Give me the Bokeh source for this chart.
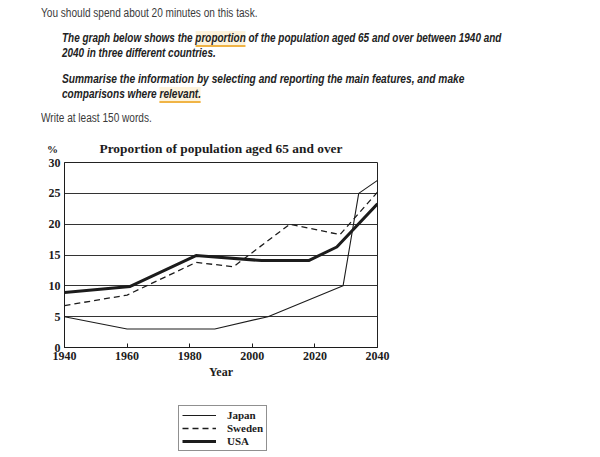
from bokeh.plotting import figure
from bokeh.models import Range1d, Legend, LegendItem, FixedTicker, Div
from bokeh.layouts import column
from bokeh.embed import file_html
from bokeh.resources import INLINE

# ---------------- data ----------------
japan_years = [1940, 1960, 1988, 2005, 2029, 2034, 2040]
japan_vals = [5.0, 3.0, 3.0, 5.0, 10.0, 25.0, 27.1]

sweden_years = [1940, 1960, 1982, 1994, 2012, 2028, 2040]
sweden_vals = [6.8, 8.5, 13.8, 13.1, 20.0, 18.3, 25.2]

usa_years = [1940, 1961, 1982, 2003, 2018, 2027, 2040]
usa_vals = [8.9, 9.9, 14.9, 14.1, 14.1, 16.3, 23.3]

series_names = ["Japan", "Sweden", "USA"]
x_ticks = [1940, 1960, 1980, 2000, 2020, 2040]
y_ticks = [0, 5, 10, 15, 20, 25, 30]

chart_title = "Proportion of population aged 65 and over"
header_intro = "You should spend about 20 minutes on this task."
task_1a = "The graph below shows the "
task_1b = "proportion"
task_1c = " of the population aged 65 and over between 1940 and"
task_2 = "2040 in three different countries."
task_3 = "Summarise the information by selecting and reporting the main features, and make"
task_4a = "comparisons where "
task_4b = "relevant."
header_outro = "Write at least 150 words."

# ---------------- layout (page pixels) ----------------
W = 600
DIV_H = 157
FL, FR, FT, FB = 64, 377, 162, 347     # plot frame edges
MAIN_BOTTOM = 390
LEG_H = 66

SANS = "'Liberation Sans', Arial, sans-serif"
SERIF_CSS = "'Liberation Serif', 'Times New Roman', serif"
SERIF = "Liberation Serif"
INK = "#1c1c1c"

hl = "border-bottom:2px solid #f0b446;background:#fdf3dc;"

def line_div(left, top, inner, style, sx=0.83):
    return (f'<div style="position:absolute;left:{left}px;top:{top}px;'
            f'white-space:nowrap;transform:scaleX({sx});transform-origin:0 0;'
            f'{style}">{inner}</div>')

plain = f"font-family:{SANS};font-size:12px;line-height:10px;color:#3a3a3a;"
bi = (f"font-family:{SANS};font-size:12px;line-height:10px;color:#222;"
      "font-weight:bold;font-style:italic;")

html = (f'<div style="position:relative;width:{W}px;height:{DIV_H}px;">'
        + line_div(41, 8.1, header_intro, plain, 0.84)
        + line_div(62, 32.5, f'{task_1a}<span style="{hl}">{task_1b}</span>{task_1c}', bi)
        + line_div(62, 47.5, task_2, bi)
        + line_div(62, 73.5, task_3, bi, 0.85)
        + line_div(62, 88.5, f'{task_4a}<span style="{hl}">{task_4b}</span>', bi, 0.84)
        + line_div(41, 112.5, header_outro, plain, 0.84)
        + f'<div style="position:absolute;left:0px;top:143.3px;width:442px;'
          f'text-align:center;white-space:nowrap;font-family:{SERIF_CSS};font-size:13.4px;'
          f'line-height:12px;font-weight:bold;color:{INK};">{chart_title}</div>'
        + f'<div style="position:absolute;left:42.5px;top:144.3px;width:20px;'
          f'text-align:center;font-family:{SERIF_CSS};font-size:11px;line-height:10px;'
          f'font-weight:bold;color:{INK};">%</div>'
        + '</div>')

header = Div(text=html, width=W, height=DIV_H, margin=0)

# ---------------- main chart ----------------
H = MAIN_BOTTOM - DIV_H
p = figure(width=W, height=H, output_backend="svg", toolbar_location=None,
           x_range=Range1d(1940, 2040), y_range=Range1d(0, 30),
           min_border_left=FL, min_border_right=W - FR,
           min_border_top=FT - DIV_H, min_border_bottom=MAIN_BOTTOM - FB, margin=0)
p.background_fill_color = "white"
p.border_fill_color = None
p.outline_line_color = "#222222"
p.outline_line_width = 1

xa = p.xaxis[0]
xa.ticker = FixedTicker(ticks=x_ticks)
xa.major_tick_in = 4
xa.major_tick_out = 0
xa.minor_tick_line_color = None
xa.axis_line_color = INK
xa.major_tick_line_color = INK
xa.major_label_text_font = SERIF
xa.major_label_text_font_style = "bold"
xa.major_label_text_font_size = "12px"
xa.major_label_text_color = INK
xa.major_label_standoff = 4
xa.axis_label = "Year"
xa.axis_label_text_font = SERIF
xa.axis_label_text_font_style = "bold"
xa.axis_label_text_font_size = "12px"
xa.axis_label_text_color = INK
xa.axis_label_standoff = 2

ya = p.yaxis[0]
ya.ticker = FixedTicker(ticks=y_ticks)
ya.major_tick_in = 0
ya.major_tick_out = 0
ya.minor_tick_line_color = None
ya.axis_line_color = INK
ya.major_label_text_font = SERIF
ya.major_label_text_font_style = "bold"
ya.major_label_text_font_size = "12px"
ya.major_label_text_color = INK
ya.major_label_standoff = 4

p.xgrid.grid_line_color = None
p.ygrid.ticker = FixedTicker(ticks=y_ticks)
p.ygrid.grid_line_color = "#333333"
p.ygrid.grid_line_width = 1

styles = [dict(line_width=1.1), dict(line_width=1.3, line_dash="6 4"), dict(line_width=3)]
series = [(japan_years, japan_vals), (sweden_years, sweden_vals), (usa_years, usa_vals)]
for (xs, ys), s in zip(series, styles):
    p.line(xs, ys, line_color=INK, **s)

# ---------------- legend (separate strip under the chart) ----------------
# The same series are drawn here too, but the strip's ranges keep them out of
# view: they only provide the legend's line samples.
lg = figure(width=W, height=LEG_H, output_backend="svg", toolbar_location=None,
            x_range=Range1d(0, 1), y_range=Range1d(0, 1), min_border=0,
            x_axis_type=None, y_axis_type=None, margin=0)
lg.outline_line_color = None
lg.grid.grid_line_color = None
lg.background_fill_color = None
lg.border_fill_color = None
key_renderers = [lg.line(xs, ys, line_color=INK, **s) for (xs, ys), s in zip(series, styles)]
legend = Legend(items=[LegendItem(label=n, renderers=[r])
                       for n, r in zip(series_names, key_renderers)],
                location=(178 - FL, 5),
                border_line_color="#222222", border_line_width=1,
                background_fill_color="white", background_fill_alpha=1,
                label_text_font=SERIF, label_text_font_style="bold",
                label_text_font_size="11px", label_text_color=INK,
                glyph_width=34, glyph_height=12, label_height=12,
                label_standoff=11, padding=3, spacing=1, margin=0)
lg.add_layout(legend, "center")

layout = column(header, p, lg, margin=0, spacing=0)
open("out.html", "w").write(file_html(layout, INLINE))
